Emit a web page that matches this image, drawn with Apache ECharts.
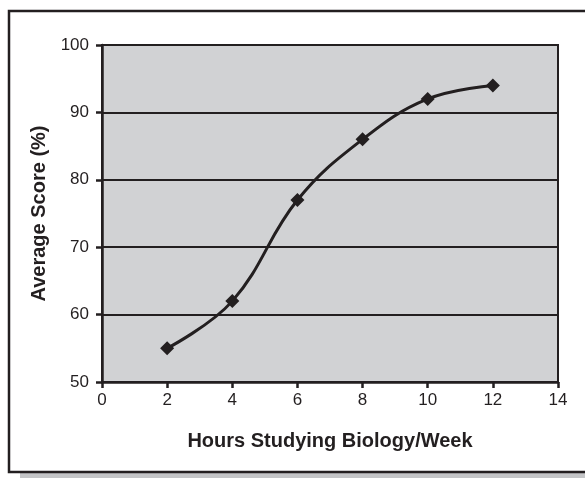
<!DOCTYPE html>
<html><head><meta charset="utf-8">
<script src="https://cdn.jsdelivr.net/npm/echarts@6/dist/echarts.min.js"></script>
<style>html,body{margin:0;padding:0;background:#fff}#c{width:585px;height:478px}</style>
</head><body><div id="c"></div>
<script>
var hours = [2, 4, 6, 8, 10, 12];
var scores = [55, 62, 77, 86, 92, 94];
var xTitle = 'Hours Studying Biology/Week';
var yTitle = 'Average Score (%)';
var FONT = '"Liberation Sans Narrow","Liberation Sans",Arial,sans-serif';
var chart = echarts.init(document.getElementById('c'), null, {renderer:'canvas'});
chart.setOption({
  animation: false,
  backgroundColor: '#fff',
  graphic: [
    {type:'rect', shape:{x:20, y:473, width:600, height:10}, style:{fill:'#c4c5c7'}, z:-10, silent:true},
    {type:'rect', shape:{x:9, y:11, width:600, height:461}, style:{fill:'transparent', stroke:'#231f20', lineWidth:2.5}, z:-10, silent:true}
  ],
  grid: {left:102, top:45, width:456, height:337, show:true, backgroundColor:'#d1d2d4', borderColor:'#231f20', borderWidth:2},
  xAxis: {
    type:'value', min:0, max:14, interval:2,
    name: xTitle, nameLocation:'middle', nameGap:49,
    nameTextStyle:{fontFamily:'Liberation Sans', fontWeight:'bold', fontSize:20, color:'#231f20'},
    axisLine:{show:true, onZero:false, lineStyle:{color:'#231f20', width:2.5}},
    axisTick:{show:true, length:6, lineStyle:{color:'#231f20', width:2.5}},
    axisLabel:{fontFamily:FONT, fontSize:17, color:'#231f20', margin:10},
    splitLine:{show:false}
  },
  yAxis: {
    type:'value', min:50, max:100, interval:10,
    name: yTitle, nameLocation:'middle', nameGap:51,
    nameTextStyle:{fontFamily:'Liberation Sans', fontWeight:'bold', fontSize:20, color:'#231f20'},
    axisLine:{show:true, onZero:false, lineStyle:{color:'#231f20', width:2.5}},
    axisTick:{show:true, length:6, lineStyle:{color:'#231f20', width:2.5}},
    axisLabel:{fontFamily:FONT, fontSize:17, color:'#231f20', margin:13},
    splitLine:{show:true, lineStyle:{color:'#231f20', width:2}}
  },
  series: [{
    type:'line', smooth:0.4,
    data: hours.map(function(h,i){return [h, scores[i]];}),
    symbol:'diamond', symbolSize:14,
    lineStyle:{color:'#231f20', width:3},
    itemStyle:{color:'#231f20'},
    z:5
  }]
});
</script></body></html>
